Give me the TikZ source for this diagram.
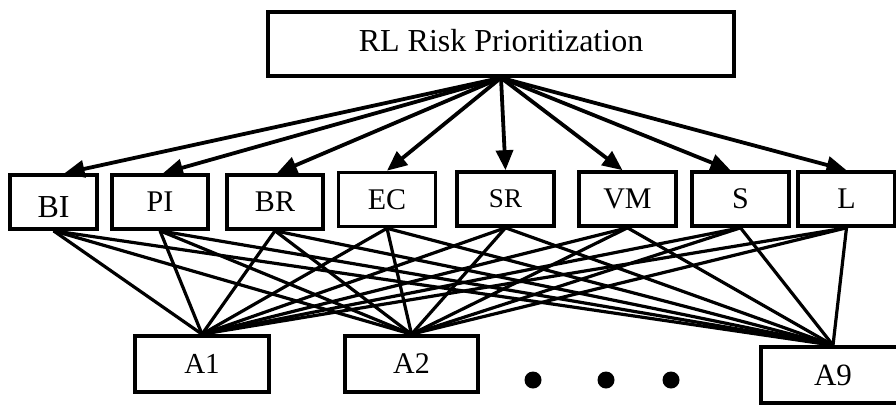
\documentclass[tikz,border=0pt]{standalone}
\usepackage{fontspec}
\setmainfont{Liberation Serif}
\usetikzlibrary{arrows.meta}
\begin{document}
\begin{tikzpicture}[x=1pt,y=-1pt,
  box/.style={draw,line width=3.6pt,rectangle,inner sep=0pt,font=\fontsize{30}{36}\selectfont},
  mid/.style={box,minimum width=96pt,minimum height=54pt},
  bot/.style={box,minimum width=134pt,minimum height=56pt},
  link/.style={line width=3.2pt},
  arr/.style={line width=3.8pt,-{Triangle[length=20pt,width=17pt]}},
  bigdot/.style={circle,fill,inner sep=0pt,minimum size=17pt}]
\useasboundingbox (0,0) rectangle (896,405);
% top
\node[box,minimum width=466pt,minimum height=64pt,font=\fontsize{32}{38}\selectfont,text height=22pt,text depth=8pt] (top) at (501,44) {RL Risk Prioritization};
% middle row
\node[mid,minimum width=87pt,text height=30pt,text depth=0pt,font=\fontsize{32}{38}\selectfont] (BI) at (53.5,202) {BI};
\node[mid] (PI) at (160,202) {PI};
\node[mid] (BR) at (275,202) {BR};
\node[mid,minimum width=97pt] (EC) at (387,199.5) {EC};
\node[mid,minimum width=97pt,font=\fontsize{27}{32}\selectfont] (SR) at (505.5,199) {SR};
\node[mid,minimum width=97pt] (VM) at (627.5,199) {VM};
\node[mid,minimum width=97pt] (S) at (740.5,199) {S};
\node[mid,minimum width=97pt] (L) at (846.5,199) {L};
% bottom row
\node[bot,font=\fontsize{29}{34}\selectfont] (A1) at (202,364) {A1};
\node[bot,minimum width=133pt] (A2) at (411.5,364) {A2};
\node[bot,minimum width=144pt,font=\fontsize{31}{36}\selectfont] (A9) at (833,375) {A9};
% dots
\node[bigdot] (d1) at (533,380) {};
\node[bigdot] (d2) at (606,380) {};
\node[bigdot] (d3) at (671,380) {};
% arrows
\draw[arr] (top.south) -- ([xshift=11pt]BI.north);
\draw[arr] (top.south) -- ([xshift=3pt]PI.north);
\draw[arr] (top.south) -- ([xshift=2pt]BR.north);
\draw[arr] (top.south) -- (EC.north);
\draw[arr] (top.south) -- (SR.north);
\draw[arr] (top.south) -- ([xshift=-5pt]VM.north);
\draw[arr] (top.south) -- ([xshift=-10pt]S.north);
\draw[arr] (top.south) -- (L.north);
% links
\foreach \m in {BI,PI,BR,EC,SR,VM,S,L}
  \foreach \a in {A1,A2,A9}
    \draw[link] (\m.south) -- (\a.north);
\end{tikzpicture}
\end{document}
